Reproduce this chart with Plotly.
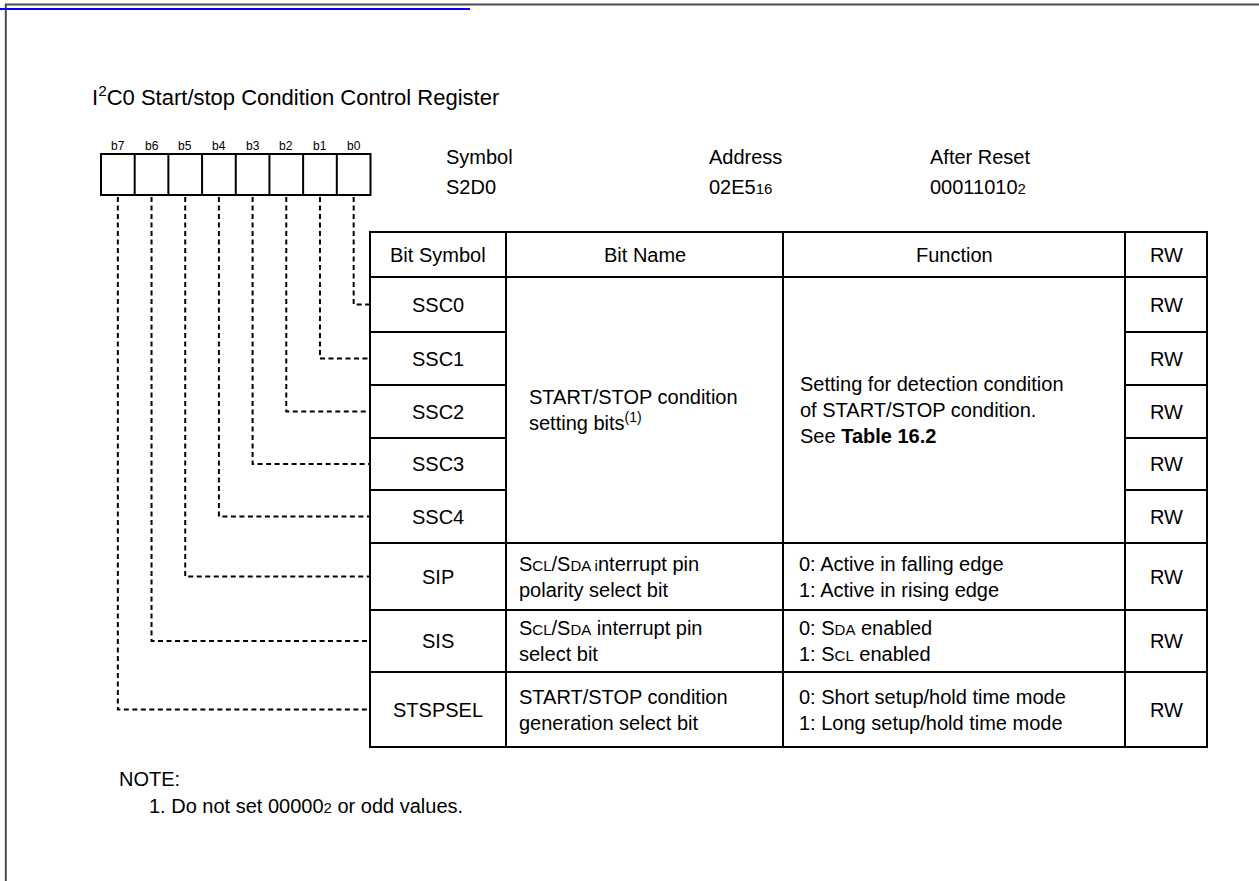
import plotly.graph_objects as go

W, H = 1259, 881
FONT = "Arial, Liberation Sans, Helvetica, sans-serif"


def sc(t):
    """small-caps style smaller letters"""
    return "<span style='font-size:15px'>" + t + "</span>"


# ---------------- data ----------------
title_text = "I<sup>2</sup>C0 Start/stop Condition Control Register"
bit_labels = ["b7", "b6", "b5", "b4", "b3", "b2", "b1", "b0"]
reg_headers = ["Symbol", "Address", "After Reset"]
reg_values = ["S2D0", "02E5" + sc("16"), "00011010" + sc("2")]
header_labels = ["Bit Symbol", "Bit Name", "Function", "RW"]
bit_symbols = ["SSC0", "SSC1", "SSC2", "SSC3", "SSC4", "SIP", "SIS", "STSPSEL"]
row_bit_numbers = [0, 1, 2, 3, 4, 5, 6, 7]
rw_values = ["RW", "RW", "RW", "RW", "RW", "RW", "RW", "RW"]
ssc_bit_name = "START/STOP condition<br>setting bits<sup>(1)</sup>"
ssc_function = "Setting for detection condition<br>of START/STOP condition.<br>See <b>Table 16.2</b>"
other_bit_names = [
    "S" + sc("CL") + "/S" + sc("DA i") + "nterrupt pin<br>polarity select bit",
    "S" + sc("CL") + "/S" + sc("DA") + " interrupt pin<br>select bit",
    "START/STOP condition<br>generation select bit",
]
other_functions = [
    "0: Active in falling edge<br>1: Active in rising edge",
    "0: S" + sc("DA") + " enabled<br>1: S" + sc("CL") + " enabled",
    "0: Short setup/hold time mode<br>1: Long setup/hold time mode",
]
note_title = "NOTE:"
note_lines = ["1. Do not set 00000" + sc("2") + " or odd values."]

# ---------------- geometry ----------------
box_left, box_right, box_top, box_bottom = 101, 370.5, 154, 195
cell_w = (box_right - box_left) / 8
col_x = [370, 506, 783, 1125, 1207]
row_y = [232, 277, 332, 385, 438, 490, 543, 610, 672, 747]
reg_x = [444, 707, 928]
reg_y = [157, 187]

shapes = []
annos = []


def line(x0, y0, x1, y1, w=2, color="black", dash="solid"):
    shapes.append(dict(type="line", x0=x0, y0=y0, x1=x1, y1=y1, xref="x", yref="y",
                       line=dict(color=color, width=w, dash=dash)))


def text(x, y, t, size=20, xa="center", ya="middle", align="center", color="black"):
    annos.append(dict(x=x, y=y, xref="x", yref="y", text=t, showarrow=False,
                      xanchor=xa, yanchor=ya, align=align,
                      font=dict(family=FONT, size=size, color=color)))


# page frame and link underline
line(5, 4.6, W, 4.6, w=2, color="#4a4a4a")
line(5.8, 4, 5.8, H, w=2, color="#4a4a4a")
line(0, 9, 470, 9, w=2.2, color="#0000ff")

# title
text(90, 96, title_text, size=22, xa="left")

# bit boxes
shapes.append(dict(type="rect", x0=box_left, y0=box_top, x1=box_right, y1=box_bottom,
                   xref="x", yref="y", line=dict(color="black", width=2)))
for i in range(1, 8):
    xx = box_left + i * cell_w
    line(xx, box_top, xx, box_bottom)
for i, lab in enumerate(bit_labels):
    text(box_left + (i + 0.5) * cell_w, 146, lab, size=12)

# register info
for x, hd, val in zip(reg_x, reg_headers, reg_values):
    text(x, reg_y[0], hd, xa="left")
    text(x, reg_y[1], val, xa="left")

# table frame
shapes.append(dict(type="rect", x0=col_x[0], y0=row_y[0], x1=col_x[-1], y1=row_y[-1],
                   xref="x", yref="y", line=dict(color="black", width=2)))
line(col_x[0], row_y[1], col_x[-1], row_y[1])
for xx in col_x[1:-1]:
    line(xx, row_y[0], xx, row_y[-1])
# SSC rows: lines only in symbol and RW columns
for yy in row_y[2:6]:
    line(col_x[0], yy, col_x[1], yy)
    line(col_x[3], yy, col_x[4], yy)
for yy in row_y[6:9]:
    line(col_x[0], yy, col_x[-1], yy)

# header
for j, hl in enumerate(header_labels):
    text((col_x[j] + col_x[j + 1]) / 2, (row_y[0] + row_y[1]) / 2, hl)

# rows
row_centers = [(row_y[k + 1] + row_y[k + 2]) / 2 for k in range(8)]
for k, (sym, rw, bn) in enumerate(zip(bit_symbols, rw_values, row_bit_numbers)):
    yc = row_centers[k]
    text((col_x[0] + col_x[1]) / 2, yc, sym)
    text((col_x[3] + col_x[4]) / 2, yc, rw)
    # dashed connector from bit box
    cx = box_left + (7 - bn + 0.5) * cell_w
    shapes.append(dict(type="path", xref="x", yref="y",
                       path=f"M {cx},{box_bottom + 2} L {cx},{yc} L {col_x[0]},{yc}",
                       line=dict(color="black", width=2, dash="5px,3.5px")))

# merged SSC cells
ssc_mid = (row_y[1] + row_y[6]) / 2
text(527, ssc_mid, ssc_bit_name, xa="left", align="left")
text(798, ssc_mid, ssc_function, xa="left", align="left")

for k, (bname, func) in enumerate(zip(other_bit_names, other_functions)):
    yc = row_centers[5 + k]
    text(517, yc, bname, xa="left", align="left")
    text(797, yc, func, xa="left", align="left")

# note
text(117, 779, note_title, xa="left")
for i, nl in enumerate(note_lines):
    text(147, 806 + i * 27, nl, xa="left")

fig = go.Figure()
fig.update_layout(
    width=W, height=H, margin=dict(l=0, r=0, t=0, b=0),
    paper_bgcolor="white", plot_bgcolor="white",
    xaxis=dict(range=[0, W], visible=False, fixedrange=True),
    yaxis=dict(range=[H, 0], visible=False, fixedrange=True),
    shapes=shapes, annotations=annos, showlegend=False,
)
fig.write_html("out.html", config={"displayModeBar": False, "staticPlot": True},
               post_script="document.body.style.margin='0';document.body.style.overflow='hidden';")
